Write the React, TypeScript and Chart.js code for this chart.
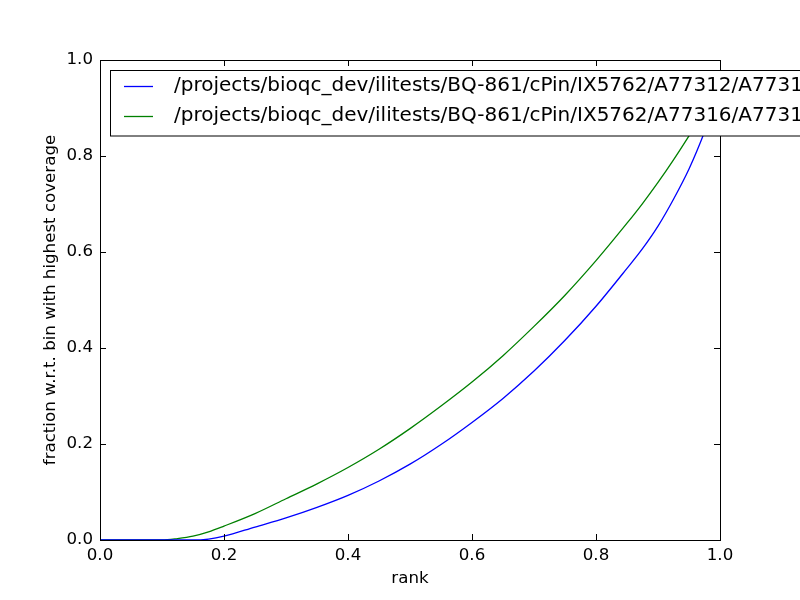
import React, { useEffect, useRef } from "react";
import { Chart, registerables } from "chart.js";

Chart.register(...registerables);

const ranks = [0, 0.05, 0.1, 0.125, 0.15, 0.175, 0.2, 0.25, 0.3, 0.35, 0.4, 0.45, 0.5, 0.55, 0.6, 0.65, 0.7, 0.75, 0.8, 0.85, 0.875, 0.9, 0.925, 0.95, 0.975, 1.0];
const blueValues = [0, 0, 0, 0, 0, 0.002, 0.008, 0.027, 0.046, 0.068, 0.093, 0.123, 0.158, 0.199, 0.245, 0.295, 0.352, 0.416, 0.487, 0.566, 0.607, 0.654, 0.71, 0.773, 0.85, 0.94];
const greenValues = [0, 0, 0, 0.003, 0.008, 0.017, 0.029, 0.055, 0.086, 0.117, 0.151, 0.189, 0.232, 0.279, 0.329, 0.384, 0.445, 0.51, 0.582, 0.66, 0.701, 0.745, 0.792, 0.842, 0.894, 0.95];
const seriesLabels = [
  "/projects/bioqc_dev/ilitests/BQ-861/cPin/IX5762/A77312/A7731",
  "/projects/bioqc_dev/ilitests/BQ-861/cPin/IX5762/A77316/A7731",
];
const seriesColors = ["#0000ff", "#008000"];
const tickValues = [0, 0.2, 0.4, 0.6, 0.8, 1.0];
const xTitle = "rank";
const yTitle = "fraction w.r.t. bin with highest coverage";

const FONT = "'DejaVu Sans', sans-serif";

const framePlugin = {
  id: "frameTicks",
  afterDatasetsDraw(chart: any) {
    const { ctx, chartArea } = chart;
    const { left, right, top, bottom } = chartArea;
    const xs = chart.scales.x;
    const ys = chart.scales.y;
    const tl = 6;
    ctx.save();
    ctx.strokeStyle = "#000";
    ctx.lineWidth = 1;
    ctx.beginPath();
    tickValues.forEach((v) => {
      const px = Math.round(xs.getPixelForValue(v)) + 0.5;
      ctx.moveTo(px, bottom);
      ctx.lineTo(px, bottom - tl);
      ctx.moveTo(px, top);
      ctx.lineTo(px, top + tl);
      const py = Math.round(ys.getPixelForValue(v)) + 0.5;
      ctx.moveTo(left, py);
      ctx.lineTo(left + tl, py);
      ctx.moveTo(right, py);
      ctx.lineTo(right - tl, py);
    });
    ctx.stroke();
    ctx.strokeRect(Math.round(left) + 0.5, Math.round(top) + 0.5, Math.round(right - left), Math.round(bottom - top));
    ctx.restore();
  },
  afterDraw(chart: any) {
    const { ctx } = chart;
    ctx.save();
    const bx = 110.5, by = 70.5, bw = 760, bh = 65.5;
    ctx.fillStyle = "#fff";
    ctx.fillRect(bx, by, bw, bh);
    ctx.strokeStyle = "#000";
    ctx.lineWidth = 1;
    ctx.strokeRect(bx, by, bw, bh);
    ctx.font = `20px ${FONT}`;
    ctx.textBaseline = "middle";
    ctx.textAlign = "left";
    chart.data.datasets.forEach((ds: any, i: number) => {
      const y = 86 + i * 30;
      ctx.strokeStyle = ds.borderColor;
      ctx.lineWidth = 1.3;
      ctx.beginPath();
      ctx.moveTo(124, y + 0.5);
      ctx.lineTo(153, y + 0.5);
      ctx.stroke();
      ctx.fillStyle = "#000";
      ctx.fillText(ds.label, 174, y);
    });
    ctx.restore();
  },
};

export default function App() {
  const ref = useRef<HTMLCanvasElement | null>(null);
  useEffect(() => {
    if (!ref.current) return;
    const mk = (vals: number[]) => ranks.map((r, i) => ({ x: r, y: vals[i] }));
    const chart = new Chart(ref.current, {
      type: "line",
      data: {
        datasets: [
          { label: seriesLabels[0], data: mk(blueValues), borderColor: seriesColors[0], borderWidth: 1.3, pointRadius: 0, cubicInterpolationMode: "monotone", fill: false },
          { label: seriesLabels[1], data: mk(greenValues), borderColor: seriesColors[1], borderWidth: 1.3, pointRadius: 0, cubicInterpolationMode: "monotone", fill: false },
        ],
      },
      options: {
        animation: false,
        responsive: false,
        maintainAspectRatio: false,
        layout: { padding: { top: 60, right: 80, left: 0, bottom: 0 } },
        plugins: { legend: { display: false }, tooltip: { enabled: false } },
        scales: {
          x: {
            type: "linear",
            min: 0,
            max: 1,
            grid: { display: false, drawTicks: false },
            border: { display: false },
            afterFit: (s: any) => { s.height = 60; },
            ticks: {
              stepSize: 0.2,
              padding: 6,
              maxRotation: 0,
              color: "#000",
              font: { family: FONT, size: 16.67 },
              callback: (v: any) => Number(v).toFixed(1),
            },
            title: { display: true, text: xTitle, color: "#000", font: { family: FONT, size: 16.67 }, padding: { top: 0, bottom: 11 } },
          },
          y: {
            type: "linear",
            min: 0,
            max: 1,
            grid: { display: false, drawTicks: false },
            border: { display: false },
            afterFit: (s: any) => { s.width = 100; },
            ticks: {
              stepSize: 0.2,
              padding: 7,
              color: "#000",
              font: { family: FONT, size: 16.67 },
              callback: (v: any) => Number(v).toFixed(1),
            },
            title: { display: true, text: yTitle, color: "#000", font: { family: FONT, size: 16.67 }, padding: { top: 41, bottom: 0 } },
          },
        },
      },
      plugins: [framePlugin],
    });
    return () => chart.destroy();
  }, []);
  return (
    <div style={{ position: "fixed", left: 0, top: 0, width: 800, height: 600, background: "#fff" }}>
      <canvas ref={ref} width={800} height={600} style={{ width: 800, height: 600 }} />
    </div>
  );
}
